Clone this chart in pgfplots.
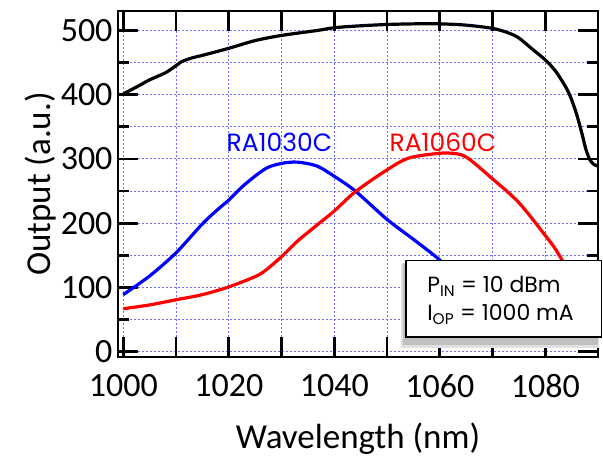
\documentclass[border=0pt]{standalone}
\usepackage{fontspec}
\setmainfont{Carlito}
\newfontfamily\gothic{Poppins}
\usepackage{pgfplots}
\pgfplotsset{compat=1.18}
\definecolor{gridblue}{RGB}{110,110,255}

\begin{document}
\begin{tikzpicture}
\begin{axis}[
    scale only axis,
    width=480pt, height=346pt,
    xmin=999, xmax=1090, ymin=-8, ymax=530,
    xtick={1000,1010,...,1090},
    xticklabels={1000,,1020,,1040,,1060,,1080,},
    ytick={0,100,...,500},
    minor ytick={50,150,...,450},
    tick align=inside,
    major tick length=20pt,
    minor tick length=11pt,
    every tick/.style={draw=black, solid, line width=2.8pt},
    every minor tick/.style={draw=black, solid, line width=2.8pt},
    axis line style={line width=2.2pt},
    xmajorgrids, ymajorgrids, yminorgrids,
    grid style={gridblue, dash pattern=on 2pt off 2pt, line width=1pt},
    minor grid style={gridblue, dash pattern=on 2pt off 2pt, line width=1pt},
    tick label style={font=\fontsize{34}{40}\selectfont},
    /pgf/number format/assume math mode=true,
    /pgf/number format/1000 sep={},
    xticklabel style={yshift=-14pt},
    yticklabel style={xshift=-2pt},
    xlabel={Wavelength (nm)},
    ylabel={Output (a.u.)},
    label style={font=\fontsize{35}{40}\selectfont},
    xlabel style={yshift=-18pt},
    ylabel style={yshift=-2pt},
    clip=false,
]
\addplot[black, line width=3.2pt, smooth, tension=0.5] coordinates {
(1000,401)(1003,414)(1005,423)(1008,434)(1010,445)(1011,451)(1013,457)
(1015,461)(1020,472)(1025,484)(1030,492)(1037,500)(1040,504)(1045,507)
(1050,509)(1055,510)(1060,510)(1065,508)(1070,503)(1073,496)(1075,488)
(1077.5,471)(1080,454)(1082,436)(1084,410)(1085,392)(1086,368)(1087,338)
(1087.7,315)(1088.5,298)(1089.3,291)(1090,289)};
\addplot[blue, line width=3.2pt, smooth, tension=0.5] coordinates {
(1000,89)(1005,118)(1010,154)(1015,199)(1018,222)(1020,236)(1023,260)
(1027,285)(1030,293)(1033,295)(1036.7,289)(1040,273)(1044,250)(1050,206)
(1055,175)(1059.4,147)(1063,120)};
\addplot[red, line width=3.2pt, smooth, tension=0.5] coordinates {
(1000,67)(1005,73)(1010,81)(1015,89)(1020,101)(1025,117)(1027,127)
(1030,148)(1033,172)(1037,199)(1040,219)(1044,249)(1050,283)(1054,301)
(1059,308)(1062,309)(1065,303)(1070,269)(1075,232)(1080,181)(1082,159)
(1084,131)(1086,105)};

\node[blue, font=\gothic\fontsize{25}{30}\selectfont] at (1029.6,325) {RA1030C};
\node[red, font=\gothic\fontsize{25}{30}\selectfont] at (1060.6,326) {RA1060C};

\fill[black!12] (1052.6,6) rectangle (1090.2,136);
\fill[black!25] (1053.0,11) rectangle (1090.0,138);
\draw[black, line width=1.6pt, fill=white] (1053.6,23) rectangle (1090.7,142);
\node[anchor=west, font=\gothic\fontsize{22}{26}\selectfont, inner sep=0pt]
    at (1057.6,102) {P\textsubscript{IN} = 10 dBm};
\node[anchor=west, font=\gothic\fontsize{22}{26}\selectfont, inner sep=0pt]
    at (1057.6,58) {I\textsubscript{OP} = 1000 mA};
\end{axis}
\pgfresetboundingbox
\path (current axis.south west) ++(-118pt,-107pt) coordinate (bl);
\path (current axis.north east) ++(5pt,11pt) coordinate (tr);
\path[use as bounding box] (bl) rectangle (tr);
\end{tikzpicture}
\end{document}
